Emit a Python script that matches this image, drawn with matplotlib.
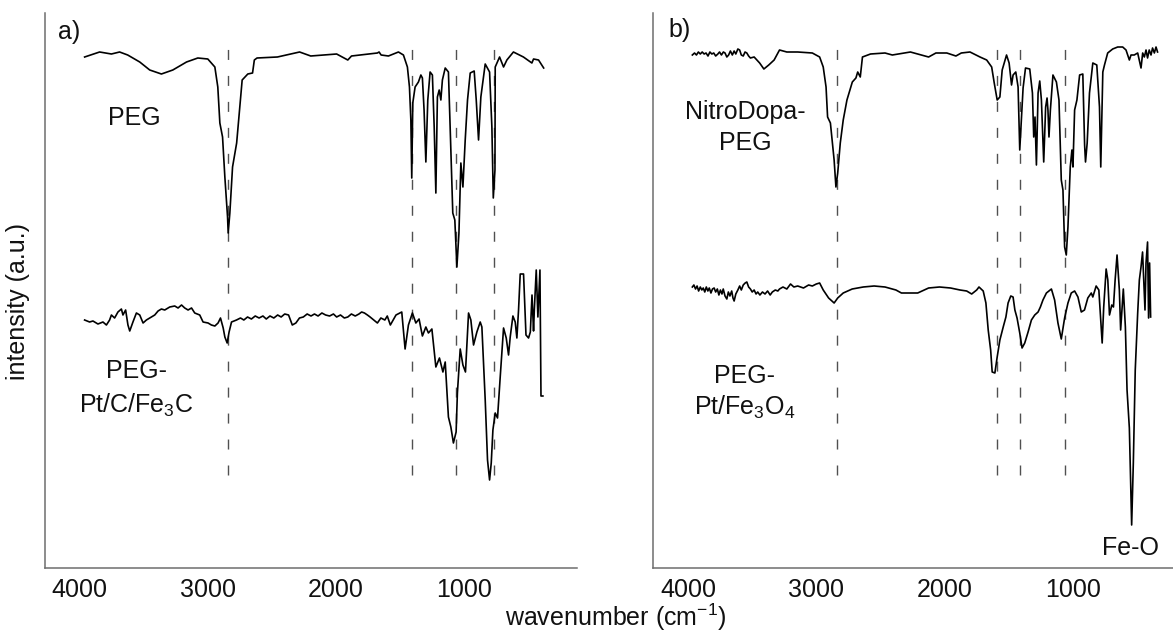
import matplotlib
matplotlib.use("Agg")
import matplotlib.pyplot as plt

plt.rcParams['font.family'] = ['Liberation Sans', 'DejaVu Sans']
plt.rcParams['mathtext.fontset'] = 'custom'
plt.rcParams['mathtext.rm'] = 'Liberation Sans'
plt.rcParams['mathtext.it'] = 'Liberation Sans'
plt.rcParams['mathtext.default'] = 'regular'

# ---------------- data (wavenumber in cm-1, intensity in a.u.) ----------------
peg_w = [3961, 3844, 3752, 3688, 3625, 3531, 3453, 3362, 3273, 3166, 3078, 3000, 2945, 2922,
         2906, 2885, 2867, 2846, 2841, 2828, 2807, 2775, 2732, 2688, 2651, 2637, 2616, 2457,
         2284, 2197, 1995, 1908, 1879, 1677, 1664, 1648, 1591, 1513, 1474, 1443, 1427, 1416,
         1409, 1401, 1383, 1357, 1338, 1326, 1313, 1299, 1284, 1266, 1248, 1234, 1221, 1209,
         1195, 1182, 1170, 1148, 1123, 1104, 1089, 1073, 1057, 1041, 1026, 1010, 992, 974,
         953, 922, 906, 888, 870, 836, 802, 784, 773, 760, 758, 724, 693, 667, 616, 538,
         472, 459, 420, 380]
peg_i = [511, 516, 514, 516, 513, 506, 498, 494, 498, 506, 510, 509, 501, 481,
         445, 431, 391, 351, 335, 355, 401, 425, 488, 494, 495, 508, 510, 511,
         516, 512, 514, 508, 512, 515, 516, 513, 512, 516, 513, 501, 481, 448,
         390, 465, 481, 486, 493, 490, 458, 406, 468, 496, 493, 441, 375, 471,
         478, 468, 488, 500, 496, 418, 355, 348, 301, 335, 405, 381, 428, 468,
         495, 497, 468, 428, 471, 504, 496, 441, 370, 398, 501, 511, 501, 508, 516, 511,
         505, 509, 508, 500]

fe3c_w = [3961, 3922, 3896, 3857, 3818, 3791, 3766, 3752, 3727, 3701, 3674, 3662, 3641, 3623,
          3609, 3584, 3557, 3531, 3505, 3479, 3453, 3414, 3388, 3362, 3336, 3297, 3258, 3232,
          3205, 3180, 3154, 3127, 3102, 3063, 3037, 2998, 2972, 2945, 2920, 2901, 2880, 2867,
          2849, 2834, 2815, 2776, 2745, 2719, 2690, 2660, 2630, 2600, 2570, 2544, 2515, 2485,
          2455, 2428, 2400, 2370, 2341, 2313, 2285, 2255, 2225, 2195, 2168, 2140, 2110, 2081,
          2050, 2020, 1995, 1965, 1935, 1908, 1880, 1850, 1821, 1800, 1778, 1755, 1734, 1705,
          1677, 1650, 1619, 1600, 1576, 1532, 1503, 1487, 1461, 1435, 1404,
          1377, 1352, 1326, 1299, 1279, 1252, 1221, 1193, 1166, 1148, 1123, 1104, 1084, 1063,
          1053, 1031, 1010, 990, 966, 948, 927, 901, 875, 862, 836, 818, 802, 789, 776, 758,
          740, 719, 693, 672, 654, 641, 620, 602, 589, 576, 563, 537, 518, 498, 484, 471,
          459, 453, 438, 425, 409, 401, 386]
fe3c_i = [248, 246, 247, 244, 246, 243, 248, 253, 250, 256, 259, 253, 258, 243,
          237, 246, 255, 253, 245, 248, 250, 253, 257, 259, 258, 261, 262, 260,
          263, 260, 258, 260, 255, 253, 246, 245, 243, 242, 245, 250, 240, 231,
          225, 236, 246, 248, 250, 248, 251, 249, 252, 250, 252, 249, 252, 250,
          253, 251, 254, 253, 243, 245, 250, 251, 254, 252, 254, 252, 255, 253,
          252, 254, 251, 253, 250, 251, 254, 252, 254, 256, 255, 253, 251, 248,
          245, 250, 248, 252, 243, 253, 255, 256, 219, 243, 255,
          245, 249, 232, 241, 235, 239, 201, 210, 196, 206, 151, 141, 125, 136,
          175, 219, 203, 196, 255, 248, 223, 236, 246, 241, 168, 108, 88, 105, 138, 155,
          150, 191, 240, 230, 213, 231, 252, 246, 230, 258, 294, 294, 233, 230, 236, 273,
          237, 258, 298, 251, 298, 172, 172]

nd_w = [3967, 3950, 3935, 3920, 3905, 3890, 3875, 3860, 3845, 3830, 3815, 3800, 3785, 3768,
        3755, 3740, 3725, 3712, 3698, 3684, 3670, 3655, 3641, 3628, 3612, 3598, 3585, 3570,
        3556, 3542, 3528, 3514, 3485, 3442, 3409,
        3371, 3329, 3287, 3230, 3145, 3031, 2974, 2946, 2924, 2912, 2890, 2861, 2847, 2833,
        2813, 2790, 2761, 2719, 2691, 2677, 2657, 2640, 2577, 2464, 2407, 2266, 2209, 2124,
        2067, 1982, 1911, 1869, 1801, 1723, 1671, 1632, 1612, 1589, 1568, 1550, 1516, 1496,
        1477, 1465, 1444, 1426, 1413, 1399, 1387, 1368, 1335, 1314, 1304, 1294, 1283, 1270,
        1257, 1244, 1226, 1211, 1200, 1193, 1185, 1174, 1154, 1127, 1107, 1089, 1076, 1063,
        1050, 1037, 1019, 1006, 998, 985, 967, 946, 921, 907, 900, 887, 869, 843, 812, 791,
        781, 765, 752, 727, 688, 649, 610, 584, 558, 545, 520, 493, 467, 454, 441, 428,
        416, 403, 389, 377, 363, 350, 338]
nd_i = [513, 515, 513, 516, 514, 516, 514, 515, 512, 516, 514, 515, 512, 514,
        516, 513, 516, 515, 511, 513, 517, 513, 517, 514, 519, 518, 513, 512,
        516, 515, 512, 510, 511, 505, 499,
        503, 508, 518, 516, 516, 515, 511, 501, 481, 451, 445, 408, 381, 395,
        425, 448, 468, 486, 490, 496, 491, 511, 514, 515, 513, 516, 514, 511,
        515, 515, 512, 515, 516, 511, 508, 501, 485, 468, 471, 498, 513, 505,
        483, 493, 496, 481, 418, 451, 480, 500, 499, 475, 431, 451, 403, 475,
        487, 468, 406, 461, 470, 458, 431, 458, 493, 486, 468, 388, 378, 321,
        313, 341, 401, 418, 401, 458, 468, 493, 494, 423, 406, 425, 475, 505, 503, 461,
        401, 496, 503, 515, 519, 521, 521, 518, 508, 513, 513, 515, 500, 515, 511, 518,
        510, 518, 513, 520, 515, 521, 516]

fe3o4_w = [3967, 3955, 3942, 3930, 3918, 3905, 3893, 3882, 3870, 3858, 3846, 3835, 3822, 3810,
           3797, 3785, 3772, 3760, 3748, 3736, 3726, 3712, 3698, 3686, 3674, 3660, 3650, 3641,
           3628, 3612, 3598, 3585, 3570, 3555, 3542, 3528, 3514, 3500, 3485, 3470, 3457, 3440,
           3420, 3400, 3380, 3360, 3343, 3320, 3300, 3287, 3260, 3230, 3201, 3175, 3145, 3100,
           3060, 3031, 3000, 2974, 2946, 2904, 2861, 2833, 2790, 2720,
           2634, 2549, 2464, 2379, 2336, 2294, 2209, 2124, 2039, 1953, 1879, 1827, 1788, 1749,
           1731, 1698, 1677, 1659, 1640, 1628, 1607, 1589, 1568, 1542, 1521, 1504, 1483, 1465,
           1451, 1434, 1413, 1395, 1374, 1348, 1322, 1296, 1270, 1252, 1232, 1205, 1166, 1141,
           1115, 1089, 1063, 1037, 1011, 985, 959, 933, 908, 882, 855, 843, 817, 796, 770, 758,
           739, 726, 713, 695, 682, 669, 654, 636, 626, 605, 589, 576, 558, 540, 527, 512,
           493, 480, 467, 455, 447, 436, 428, 416, 408, 400, 392]
fe3o4_i = [281, 283, 279, 282, 277, 281, 278, 280, 276, 281, 277, 280, 275, 279,
           280, 276, 279, 273, 278, 274, 279, 272, 269, 276, 272, 277, 270, 267,
           274, 278, 282, 278, 283, 285, 286, 281, 279, 276, 278, 274, 276, 273,
           276, 274, 277, 273, 276, 278, 277, 279, 281, 279, 284, 281, 282, 280,
           283, 282, 284, 285, 278, 270, 265, 270, 275, 279,
           281, 282, 281, 278, 275, 275, 275, 280, 281, 280, 278, 277, 274, 278,
           281, 277, 265, 238, 218, 196, 195, 211, 228, 241, 251, 265, 272, 271,
           258, 250, 235, 220, 225, 236, 248, 253, 256, 261, 268, 275, 279, 268,
           245, 229, 250, 265, 275, 277, 271, 256, 258, 270, 275, 271, 282, 278, 225, 261,
           299, 288, 253, 263, 261, 288, 313, 278, 238, 279, 241, 178, 140, 43, 105, 198,
           255, 288, 301, 316, 291, 258, 305, 326, 250, 305, 251]

marks_a = [2840, 1405, 1063, 771]
marks_b = [2842, 1590, 1413, 1061]

tick_vals = [4000, 3000, 2000, 1000]
tick_labels = ['4000', '3000', '2000', '1000']

# ---------------- figure ----------------
W, H = 1173, 633
fig = plt.figure(figsize=(W / 100, H / 100), dpi=100)

ax_a = fig.add_axes([45 / W, 65 / H, 532 / W, 555 / H])
ax_b = fig.add_axes([653.5 / W, 65 / H, 532 / W, 555 / H])

spine_col = '#6e6e6e'
dash_col = '#505050'
fs = 18

for ax in (ax_a, ax_b):
    ax.set_xlim(4270, 120)
    ax.set_ylim(0, 555)
    for s in ('top', 'right'):
        ax.spines[s].set_visible(False)
    for s in ('left', 'bottom'):
        ax.spines[s].set_color(spine_col)
        ax.spines[s].set_linewidth(1.1)
    ax.set_xticks(tick_vals)
    ax.set_xticklabels(tick_labels, fontsize=fs, color='#111111')
    ax.tick_params(axis='x', length=0, pad=7)
    ax.set_yticks([])
    ax.patch.set_alpha(0)

dash_style = (0, (7.2, 11.5))
ax_a.vlines(marks_a, 93, 530, colors=dash_col, linewidth=1.0, linestyles=[dash_style])
ax_b.vlines(marks_b, 93, 530, colors=dash_col, linewidth=1.0, linestyles=[dash_style])

ax_a.plot(peg_w, peg_i, color='black', lw=1.2)
ax_a.plot(fe3c_w, fe3c_i, color='black', lw=1.2)
ax_b.plot(nd_w, nd_i, color='black', lw=1.2)
ax_b.plot(fe3o4_w, fe3o4_i, color='black', lw=1.2)

tc = '#111111'
ax_a.text(4078, 536, 'a)', fontsize=fs, ha='center', va='center', color=tc)
ax_a.text(3570, 443, 'PEG', fontsize=fs, ha='center', va='baseline', color=tc)
ax_a.text(3557, 190, 'PEG-', fontsize=fs, ha='center', va='baseline', color=tc)
ax_a.text(3557, 155, 'Pt/C/Fe$_3$C', fontsize=fs, ha='center', va='baseline', color=tc)

ax_b.text(4066, 538, 'b)', fontsize=fs, ha='center', va='center', color=tc)
ax_b.text(3557, 449, 'NitroDopa-', fontsize=fs, ha='center', va='baseline', color=tc)
ax_b.text(3557, 418, 'PEG', fontsize=fs, ha='center', va='baseline', color=tc)
ax_b.text(3561, 185, 'PEG-', fontsize=fs, ha='center', va='baseline', color=tc)
ax_b.text(3561, 153, 'Pt/Fe$_3$O$_4$', fontsize=fs, ha='center', va='baseline', color=tc)
ax_b.text(550, 13, 'Fe-O', fontsize=fs, ha='center', va='baseline', color=tc)

fig.text(18 / W, 1 - 302 / H, 'intensity (a.u.)', rotation=90, fontsize=fs,
         ha='center', va='center', color=tc)
fig.text(616 / W, 1 - 617 / H, 'wavenumber (cm$^{-1}$)', fontsize=fs,
         ha='center', va='center', color=tc)

fig.savefig('out.png', dpi=100)
